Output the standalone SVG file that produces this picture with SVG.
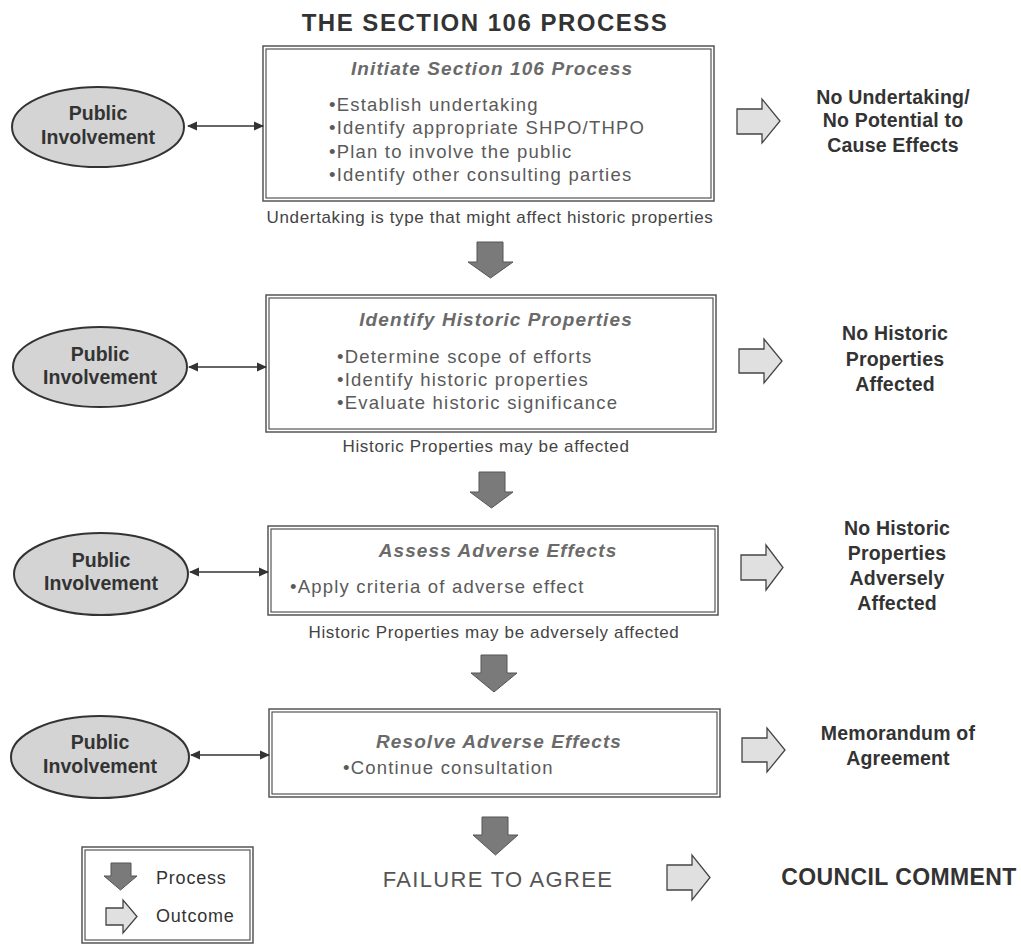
<svg xmlns="http://www.w3.org/2000/svg" width="1021" height="945" viewBox="0 0 1021 945">
<style>
  text { font-family: "Liberation Sans", Arial, sans-serif; }
  .title { font-size: 24px; font-weight: bold; fill: #333; text-anchor: middle; letter-spacing: 1.5px; }
  .box-outer { fill: #fff; stroke: #555; stroke-width: 1.5; }
  .box-inner { fill: none; stroke: #555; stroke-width: 1.2; }
  .btitle { font-size: 19px; font-weight: bold; font-style: italic; fill: #6a6a6a; text-anchor: middle; letter-spacing: 1.1px; }
  .bullet { font-size: 18.5px; fill: #5a5a5a; letter-spacing: 1.2px; }
  .caption { font-size: 17px; fill: #444; text-anchor: middle; letter-spacing: 0.65px; }
  .ell { fill: #d4d4d4; stroke: #333; stroke-width: 2; }
  .etext { font-size: 19.5px; font-weight: bold; fill: #333; text-anchor: middle; }
  .outcome { fill: #e0e0e0; stroke: #444; stroke-width: 1.3; }
  .process { fill: #7a7a7a; stroke: #555; stroke-width: 1; }
  .otext { font-size: 19.5px; font-weight: bold; fill: #333; text-anchor: middle; letter-spacing: 0.2px; }
  .legtext { font-size: 18px; fill: #333; letter-spacing: 0.8px; }
  .conn { stroke: #333; stroke-width: 1.5; fill: none; marker-start: url(#ah); marker-end: url(#ah); }
</style>
<defs>
  <marker id="ah" viewBox="0 0 10 10" refX="9" refY="5" markerWidth="10" markerHeight="10" markerUnits="userSpaceOnUse" orient="auto-start-reverse">
    <path d="M0,0.5 L10,5 L0,9.5 z" fill="#333"/>
  </marker>
</defs>

<rect width="1021" height="945" fill="#fff"/>

<text class="title" x="485" y="31">THE SECTION 106 PROCESS</text>

<!-- Step 1 -->
<g id="box1">
  <rect class="box-outer" x="263" y="46" width="451" height="155"/>
  <rect class="box-inner" x="266" y="49" width="445" height="149"/>
  <text class="btitle" x="492" y="75">Initiate Section 106 Process</text>
  <text class="bullet" x="329" y="111">•Establish undertaking</text>
  <text class="bullet" x="329" y="134">•Identify appropriate SHPO/THPO</text>
  <text class="bullet" x="329" y="158">•Plan to involve the public</text>
  <text class="bullet" x="329" y="181">•Identify other consulting parties</text>
</g>
<text id="cap1" class="caption" x="490" y="223">Undertaking is type that might affect historic properties</text>
<g id="pi1">
  <ellipse class="ell" cx="98" cy="127" rx="86" ry="40"/>
  <text class="etext" x="98" y="120">Public</text>
  <text class="etext" x="98" y="144">Involvement</text>
</g>
<g id="out1">
  <text class="otext" x="893" y="104">No Undertaking/</text>
  <text class="otext" x="893" y="127">No Potential to</text>
  <text class="otext" x="893" y="152">Cause Effects</text>
</g>

<!-- Step 2 -->
<g id="box2">
  <rect class="box-outer" x="266" y="295" width="450" height="137"/>
  <rect class="box-inner" x="269" y="298" width="444" height="131"/>
  <text class="btitle" x="496" y="326">Identify Historic Properties</text>
  <text class="bullet" x="337" y="363">•Determine scope of efforts</text>
  <text class="bullet" x="337" y="386">•Identify historic properties</text>
  <text class="bullet" x="337" y="409">•Evaluate historic significance</text>
</g>
<text id="cap2" class="caption" x="486" y="452">Historic Properties may be affected</text>
<g id="pi2">
  <ellipse class="ell" cx="100" cy="367" rx="87" ry="40"/>
  <text class="etext" x="100" y="361">Public</text>
  <text class="etext" x="100" y="384">Involvement</text>
</g>
<g id="out2">
  <text class="otext" x="895" y="340">No Historic</text>
  <text class="otext" x="895" y="366">Properties</text>
  <text class="otext" x="895" y="391">Affected</text>
</g>

<!-- Step 3 -->
<g id="box3">
  <rect class="box-outer" x="268" y="526" width="450" height="89"/>
  <rect class="box-inner" x="271" y="529" width="444" height="83"/>
  <text class="btitle" x="498" y="557">Assess Adverse Effects</text>
  <text class="bullet" x="290" y="593">•Apply criteria of adverse effect</text>
</g>
<text id="cap3" class="caption" x="494" y="638">Historic Properties may be adversely affected</text>
<g id="pi3">
  <ellipse class="ell" cx="101" cy="574" rx="87" ry="41"/>
  <text class="etext" x="101" y="567">Public</text>
  <text class="etext" x="101" y="590">Involvement</text>
</g>
<g id="out3">
  <text class="otext" x="897" y="535">No Historic</text>
  <text class="otext" x="897" y="560">Properties</text>
  <text class="otext" x="897" y="585">Adversely</text>
  <text class="otext" x="897" y="610">Affected</text>
</g>

<!-- Step 4 -->
<g id="box4">
  <rect class="box-outer" x="269" y="709" width="451" height="88"/>
  <rect class="box-inner" x="272" y="712" width="445" height="82"/>
  <text class="btitle" x="499" y="748">Resolve Adverse Effects</text>
  <text class="bullet" x="343" y="774">•Continue consultation</text>
</g>
<g id="pi4">
  <ellipse class="ell" cx="100" cy="757" rx="89" ry="41"/>
  <text class="etext" x="100" y="749">Public</text>
  <text class="etext" x="100" y="773">Involvement</text>
</g>
<g id="out4">
  <text class="otext" x="898" y="740">Memorandum of</text>
  <text class="otext" x="898" y="765">Agreement</text>
</g>

<!-- Final -->
<text id="failure" x="498" y="887" font-size="22" fill="#555" text-anchor="middle" letter-spacing="1.3">FAILURE TO AGREE</text>
<text id="council" x="899" y="885" font-size="23" font-weight="bold" fill="#333" text-anchor="middle" letter-spacing="0.4">COUNCIL COMMENT</text>

<!-- Legend -->
<g id="legend">
  <rect class="box-outer" x="82" y="847" width="171" height="96"/>
  <rect class="box-inner" x="85" y="850" width="165" height="90"/>
  <path class="process" d="M111,863 H131 V876 H137 L120.5,890 L104,876 H111 Z"/>
  <text class="legtext" x="156" y="884">Process</text>
  <path class="outcome" d="M106,908 H123 V900 L137,916.5 L123,933 V925 H106 Z"/>
  <text class="legtext" x="156" y="922">Outcome</text>
</g>

<!-- Connectors -->
<g id="connectors">
  <line class="conn" x1="188" y1="126" x2="263" y2="126"/>
  <line class="conn" x1="189" y1="367" x2="266" y2="367"/>
  <line class="conn" x1="190" y1="572" x2="268" y2="572"/>
  <line class="conn" x1="191" y1="755" x2="269" y2="755"/>

  <path class="process" d="M477,242 H503 V262 H513 L490.5,278 L468,262 H477 Z"/>
  <path class="process" d="M479,472 H505 V492 H513 L491.5,508 L470,492 H479 Z"/>
  <path class="process" d="M481,655 H507 V673 H517 L494,692 L471,673 H481 Z"/>
  <path class="process" d="M482,817 H508 V835 H518 L495.5,855 L473,835 H482 Z"/>

  <path class="outcome" d="M737,109 H762 V99 L780,121 L762,143 V134 H737 Z"/>
  <path class="outcome" d="M739,349 H764 V339 L782,361 L764,383 V373 H739 Z"/>
  <path class="outcome" d="M741,555 H766 V545 L783,567.5 L766,590 V580 H741 Z"/>
  <path class="outcome" d="M742,738 H767 V728 L785,750 L767,772 V762 H742 Z"/>
  <path class="outcome" d="M667,865 H692 V855 L710,877.5 L692,900 V890 H667 Z"/>
</g>
</svg>
